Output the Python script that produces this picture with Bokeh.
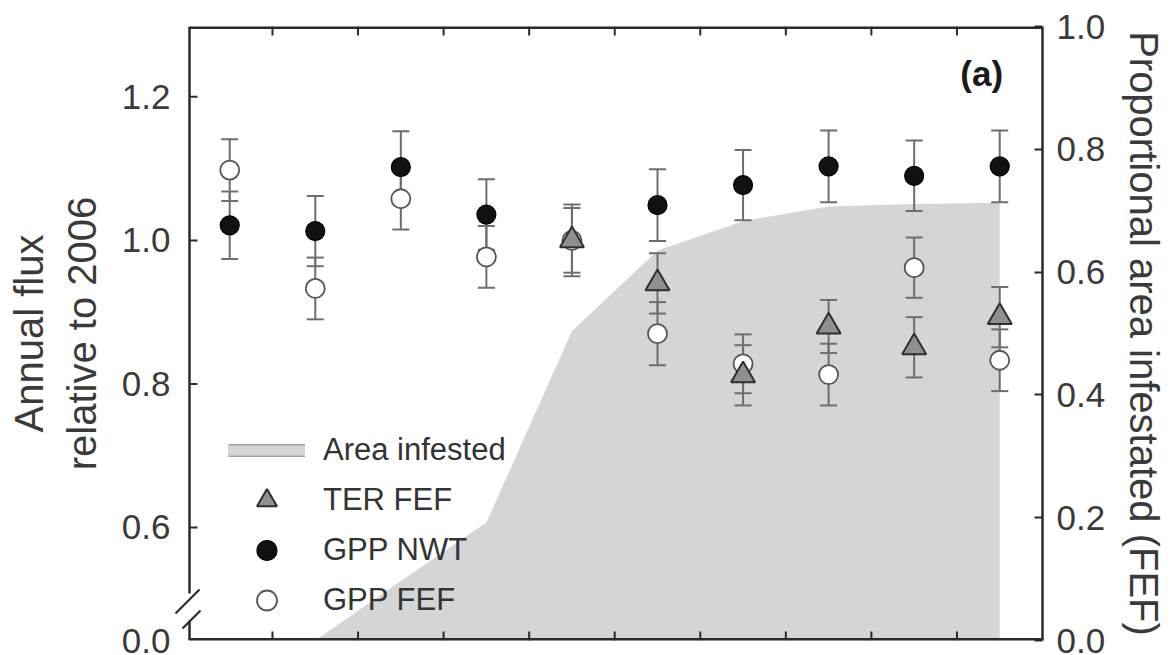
import numpy as np
from bokeh.plotting import figure
from bokeh.models import (ColumnDataSource, Range1d, LinearAxis, FixedTicker,
                          PrintfTickFormatter, Whisker, TeeHead, Legend, LegendItem,
                          Label)
from bokeh.embed import file_html
from bokeh.resources import INLINE

nan = np.nan

# ---------------- data ----------------
years = [2002, 2003, 2004, 2005, 2006, 2007, 2008, 2009, 2010, 2011]
gpp_nwt = [1.021, 1.013, 1.102, 1.036, nan, 1.049, 1.077, 1.103, 1.090, 1.103]
gpp_nwt_err = [0.047, 0.049, 0.050, 0.049, nan, 0.050, 0.049, 0.050, 0.049, 0.050]
gpp_fef = [1.098, 0.933, 1.058, 0.977, 1.000, 0.870, 0.828, 0.813, 0.962, 0.833]
gpp_fef_err = [0.043, 0.043, 0.043, 0.043, 0.045, 0.044, 0.041, 0.043, 0.042, 0.043]
ter_fef = [nan, nan, nan, nan, 1.000, 0.940, 0.812, 0.880, 0.851, 0.893]
ter_fef_err = [nan, nan, nan, nan, 0.050, 0.042, 0.042, 0.037, 0.042, 0.042]
area_infested = [0.0, 0.0, 0.097, 0.192, 0.504, 0.635, 0.683, 0.707, 0.711, 0.713]

x_ticks = [2002.5, 2003.5, 2004.5, 2005.5, 2006.5, 2007.5, 2008.5, 2009.5, 2010.5]
left_ticks = [0.6, 0.8, 1.0, 1.2]
left_break_label = "0.0"
right_ticks = [0.0, 0.2, 0.4, 0.6, 0.8, 1.0]

# ---------------- layout / styling ----------------
FONT = "Liberation Sans"
TXT = "#3a3a3a"
SPINE = "#2b2b2b"
ERR = "#6e6e6e"
AREA = "#d3d5d6"

W, H = 1173, 655
B_LEFT, B_RIGHT, B_TOP, B_BOTTOM = 172, 131, 26, 15
FRAME_W = W - B_LEFT - B_RIGHT
FRAME_H = H - B_TOP - B_BOTTOM

X0, X1 = 2001.53, 2011.50          # visible axis box (spine to spine)
Y0, Y1 = 0.4425, 1.298
ux = (X1 - X0) / (FRAME_W - 17)    # data units per pixel (x)
XF = X0 - 17 * ux                  # frame starts a little left of the spine (room for the break marks)
uy = (Y1 - Y0) / FRAME_H           # data units per pixel (y)

p = figure(width=W, height=H, x_range=Range1d(XF, X1), y_range=Range1d(Y0, Y1),
           output_backend="svg", toolbar_location=None,
           x_axis_type=None, y_axis_type=None,
           min_border_left=B_LEFT, min_border_right=B_RIGHT, min_border_top=B_TOP,
           min_border_bottom=B_BOTTOM)
p.extra_y_ranges = {"area": Range1d(0.0, 1.0)}
p.outline_line_color = None
p.background_fill_color = "white"
p.border_fill_color = "white"


def style_axis(ax):
    ax.axis_line_color = SPINE
    ax.axis_line_width = 2.5
    ax.major_tick_in = 8
    ax.major_tick_out = 0
    ax.major_tick_line_color = SPINE
    ax.major_tick_line_width = 2
    ax.minor_tick_line_color = None
    ax.major_label_text_font = FONT
    ax.major_label_text_font_size = "35px"
    ax.major_label_text_color = TXT
    ax.major_label_standoff = 14
    ax.axis_label_text_font = FONT
    ax.axis_label_text_font_size = "40px"
    ax.axis_label_text_font_style = "normal"
    ax.axis_label_text_color = TXT


left = LinearAxis(ticker=FixedTicker(ticks=[Y0] + left_ticks),
                  formatter=PrintfTickFormatter(format="%.1f"),
                  major_label_overrides={Y0: left_break_label},
                  axis_label="Annual flux\nrelative to 2006")
style_axis(left)
left.axis_line_color = None
left.major_tick_in = 0
left.major_label_standoff = 2
left.axis_label_standoff = 15
p.add_layout(left, "left")

right = LinearAxis(y_range_name="area", ticker=FixedTicker(ticks=right_ticks),
                   formatter=PrintfTickFormatter(format="%.1f"),
                   axis_label="Proportional area infestated (FEF)")
style_axis(right)
right.axis_label_standoff = 14
p.add_layout(right, "right")

# ---------------- area infested ----------------
area_src = ColumnDataSource(dict(x=years, y=area_infested))
p.varea(x="x", y1=0, y2="y", source=area_src, y_range_name="area",
        fill_color=AREA, fill_alpha=1.0, level="underlay")


def make_src(vals, errs):
    v = np.array(vals, dtype=float)
    e = np.array(errs, dtype=float)
    return ColumnDataSource(dict(x=np.array(years, dtype=float), y=v,
                                 upper=v + e, lower=v - e))


src_fef = make_src(gpp_fef, gpp_fef_err)
src_nwt = make_src(gpp_nwt, gpp_nwt_err)
src_ter = make_src(ter_fef, ter_fef_err)

for s in (src_fef, src_nwt, src_ter):
    w = Whisker(source=s, base="x", upper="upper", lower="lower",
                line_color=ERR, line_width=2, level="underlay",
                upper_head=TeeHead(size=17, line_color=ERR, line_width=2),
                lower_head=TeeHead(size=17, line_color=ERR, line_width=2))
    p.add_layout(w)

r_fef = p.scatter(x="x", y="y", source=src_fef, marker="circle", size=19,
                  fill_color="white", line_color="#555555", line_width=1.8)
r_nwt = p.scatter(x="x", y="y", source=src_nwt, marker="circle", size=19,
                  fill_color="#111111", line_color="#000000", line_width=1.2)
r_ter = p.scatter(x="x", y="y", source=src_ter, marker="triangle", size=24,
                  fill_color="#8f8f8f", line_color="#2f2f2f", line_width=2)

# ---------------- axis box: spines, ticks and the break on the left ----------------
BREAK_LO = Y0 + 20 * uy
BREAK_HI = Y0 + 47 * uy
tick_len = 8
sp_x0 = [X0, X0, X0, X0]
sp_x1 = [X0, X0, X1, X1]
sp_y0 = [Y1, BREAK_LO, Y1, Y0]
sp_y1 = [BREAK_HI, Y0, Y1, Y0]
sp_w = [2.5, 2.5, 5.0, 5.0]       # top/bottom lines sit on the frame edge (half clipped)
p.segment(x0=sp_x0, y0=sp_y0, x1=sp_x1, y1=sp_y1, line_width=sp_w,
          line_color=SPINE, line_cap="butt")

# break slashes (pixel offsets from the lower-left corner of the box)
sl_x0 = [X0 - 14 * ux, X0 - 7 * ux]
sl_y0 = [Y0 + 27 * uy, Y0 + 12 * uy]
sl_x1 = [X0 + 10 * ux, X0 + 11 * ux]
sl_y1 = [Y0 + 51 * uy, Y0 + 30 * uy]
p.segment(x0=sl_x0, y0=sl_y0, x1=sl_x1, y1=sl_y1, line_width=2.2, line_color=SPINE)

# inward ticks: left side, top and bottom
lt = np.array(left_ticks)
p.segment(x0=np.full(len(lt), X0), y0=lt, x1=np.full(len(lt), X0 + tick_len * ux), y1=lt,
          line_width=2, line_color=SPINE)
xt = np.array(x_ticks)
p.segment(x0=xt, y0=np.full(len(xt), Y0), x1=xt, y1=np.full(len(xt), Y0 + (tick_len + 1) * uy),
          line_width=2, line_color=SPINE)
p.segment(x0=xt, y0=np.full(len(xt), Y1), x1=xt, y1=np.full(len(xt), Y1 - (tick_len + 1) * uy),
          line_width=2, line_color=SPINE)

# legend swatch for the area (thick bar with border)
la = p.line(x=[nan], y=[nan], line_width=13, line_color="#a3a3a3")
lb = p.line(x=[nan], y=[nan], line_width=10, line_color=AREA)

legend = Legend(items=[LegendItem(label="Area infested", renderers=[la, lb]),
                       LegendItem(label="TER FEF", renderers=[r_ter]),
                       LegendItem(label="GPP NWT", renderers=[r_nwt]),
                       LegendItem(label="GPP FEF", renderers=[r_fef])],
                location=(56, 15), glyph_width=77, glyph_height=50, spacing=-11,
                label_standoff=18, padding=0, margin=0,
                border_line_color=None, background_fill_alpha=0,
                label_text_font=FONT, label_text_font_size="31px",
                label_text_color="#333333")
p.add_layout(legend)

# panel tag
p.add_layout(Label(x=2010.79, y=1.233, text="(a)", text_font=FONT,
                   text_font_style="bold", text_font_size="35px",
                   text_align="center", text_baseline="middle",
                   text_color="#1a1a1a"))

open("out.html", "w").write(file_html(p, INLINE))
